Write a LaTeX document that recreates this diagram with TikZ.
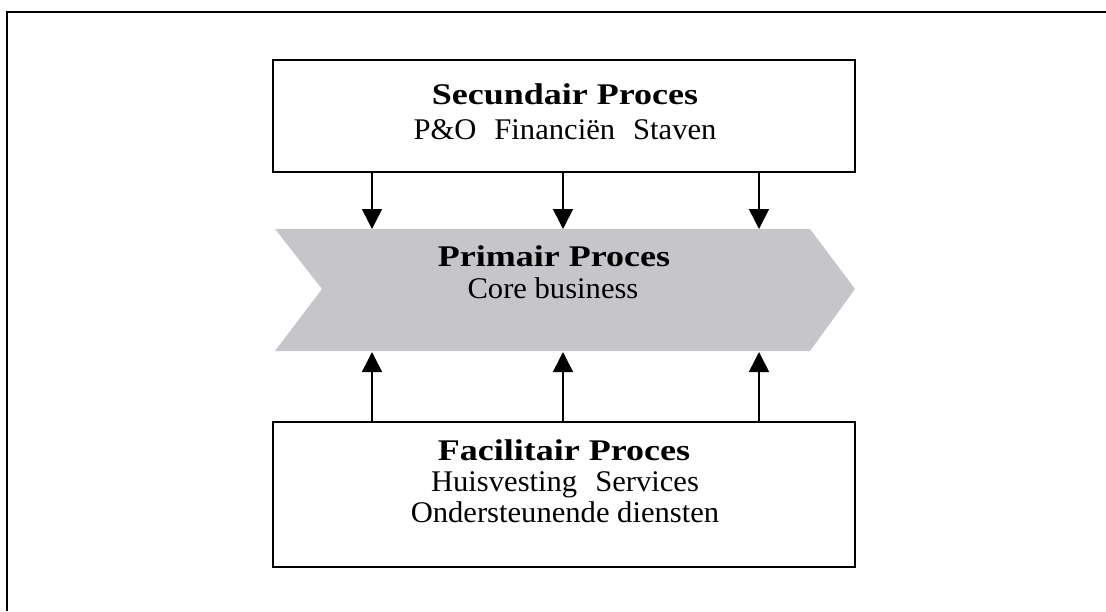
\documentclass[tikz,border=0pt]{standalone}
\usepackage{fontspec}
\setmainfont{Liberation Serif}
\newfontfamily\headfont{Liberation Serif}[FakeStretch=1.2]
\newfontfamily\bodyfont{Liberation Serif}[FakeStretch=1.02]
\usetikzlibrary{arrows.meta}
\definecolor{chevgray}{RGB}{198,198,202}
\newcommand{\gap}{\hspace{0.6em}}

\begin{document}
\begin{tikzpicture}[x=0.75pt,y=-0.75pt,
	procbox/.style={draw,line width=1.1pt,minimum width=436.5pt,inner sep=0pt},
	headtxt/.style={anchor=base,inner sep=0pt,font=\headfont\bfseries\fontsize{22.5}{27}\selectfont},
	bodytxt/.style={anchor=base,inner sep=0pt,font=\bodyfont\fontsize{22.5}{27}\selectfont},
	flow/.style={line width=1.2pt,-{Triangle[length=15pt,width=15pt]}}]
	\useasboundingbox (0,0) rectangle (1106,611);
	% frame
	\draw[line width=1.6pt] (7,611) -- (7,12) -- (1106,12);
	% primary process arrow
	\fill[chevgray] (275,229) -- (810,229) -- (855,289) -- (810,351) -- (275,351) -- (322,289) -- cycle;
	\node[procbox,minimum height=84pt] (sec) at (564,116) {};
	\node[procbox,minimum height=108.75pt] (fac) at (564,494.5) {};
	\node[headtxt] (sectitle) at (565,104) {Secundair Proces};
	\node[bodytxt] (secitems) at (565,139) {P\&O\gap Financiën\gap Staven};
	\node[headtxt] (primtitle) at (554,266) {Primair Proces};
	\node[bodytxt] (primitems) at (553,298) {Core business};
	\node[headtxt] (factitle) at (564,460) {Facilitair Proces};
	\node[bodytxt] (facitems) at (565,491) {Huisvesting\gap Services};
	\node[bodytxt] (facmore) at (565,522) {Ondersteunende diensten};
	\foreach \x/\n in {372/a,563/b,759/c}{
		\coordinate (top\n) at (\x,229);
		\coordinate (bot\n) at (\x,352);
		\draw[flow] (sec.south -| top\n) -- (top\n);
		\draw[flow] (fac.north -| bot\n) -- (bot\n);
	}
\end{tikzpicture}
\end{document}
